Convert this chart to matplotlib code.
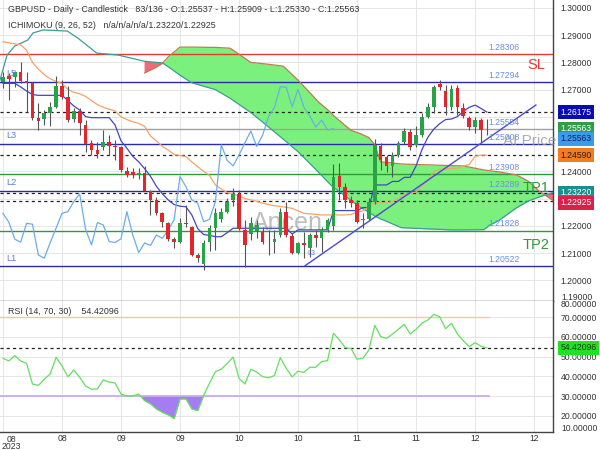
import matplotlib
matplotlib.use('Agg')
import matplotlib.pyplot as plt
import matplotlib.transforms as mtrans
import numpy as np

plt.rcParams['font.family'] = ['Liberation Sans', 'DejaVu Sans']

# ---------------- data ----------------
opens = [1.2729, 1.2750, 1.2745, 1.2763, 1.2733, 1.2723, 1.2595, 1.2593, 1.2613, 1.2637,
         1.2713, 1.2672, 1.2591, 1.2623, 1.2570, 1.2503, 1.2478, 1.2491, 1.2509, 1.2494,
         1.2491, 1.2401, 1.2396, 1.2387, 1.2393, 1.2326, 1.2295, 1.2246, 1.2212, 1.2151,
         1.2140, 1.2209, 1.2195, 1.2093, 1.2060, 1.2142, 1.2191, 1.2224, 1.2252, 1.2295,
         1.2317, 1.2185, 1.2170, 1.2182, 1.2179, 1.2142, 1.2140, 1.2166, 1.2250, 1.2163,
         1.2102, 1.2138, 1.2120, 1.2166, 1.2154, 1.2185, 1.2200, 1.2383, 1.2344, 1.2295,
         1.2283, 1.2220, 1.2224, 1.2289, 1.2493, 1.2452, 1.2420, 1.2460, 1.2509, 1.2546,
         1.2497, 1.2533, 1.2601, 1.2635, 1.2721, 1.2696, 1.2635, 1.2705, 1.2631, 1.2595,
         1.2562, 1.2588, 1.25537]
highs = [1.2766, 1.2760, 1.2768, 1.2802, 1.2763, 1.2727, 1.2652, 1.2625, 1.2656, 1.2750,
         1.2735, 1.2714, 1.2631, 1.2631, 1.2588, 1.2515, 1.2509, 1.2552, 1.2533, 1.2515,
         1.2493, 1.2417, 1.2411, 1.2411, 1.2420, 1.2332, 1.2307, 1.2252, 1.2215, 1.2160,
         1.2228, 1.2277, 1.2200, 1.2099, 1.2148, 1.2203, 1.2264, 1.2264, 1.2301, 1.2338,
         1.2332, 1.2222, 1.2234, 1.2222, 1.2197, 1.2185, 1.2185, 1.2264, 1.2289, 1.2173,
         1.2142, 1.2179, 1.2173, 1.2185, 1.2197, 1.2228, 1.2427, 1.2429, 1.2356, 1.2310,
         1.2295, 1.2246, 1.2301, 1.2517, 1.2503, 1.2460, 1.2470, 1.2510, 1.2558, 1.2554,
         1.2566, 1.2613, 1.2650, 1.2717, 1.2735, 1.2717, 1.2717, 1.2717, 1.2650, 1.2603,
         1.2601, 1.2595, 1.25909]
lows = [1.2705, 1.2662, 1.2711, 1.2723, 1.2619, 1.2588, 1.2552, 1.2570, 1.2566, 1.2631,
        1.2664, 1.2582, 1.2582, 1.2533, 1.2472, 1.2460, 1.2448, 1.2478, 1.2460, 1.2442,
        1.2399, 1.2378, 1.2374, 1.2371, 1.2326, 1.2240, 1.2240, 1.2197, 1.2146, 1.2118,
        1.2136, 1.2197, 1.2089, 1.2069, 1.2038, 1.2109, 1.2112, 1.2215, 1.2246, 1.2271,
        1.2185, 1.2050, 1.2148, 1.2154, 1.2134, 1.2093, 1.2099, 1.2160, 1.2158, 1.2095,
        1.2095, 1.2081, 1.2085, 1.2124, 1.2105, 1.2179, 1.2185, 1.2295, 1.2264, 1.2270,
        1.2209, 1.2191, 1.2222, 1.2280, 1.2405, 1.2399, 1.2380, 1.2452, 1.2500, 1.2478,
        1.2490, 1.2525, 1.2595, 1.2613, 1.2698, 1.2607, 1.2625, 1.2607, 1.2595, 1.2552,
        1.2540, 1.2509, 1.25330]
closes = [1.2747, 1.2738, 1.2763, 1.2733, 1.2723, 1.2595, 1.2585, 1.2615, 1.2637, 1.2713,
          1.2672, 1.2588, 1.2623, 1.2576, 1.2500, 1.2478, 1.2464, 1.2509, 1.2494, 1.2491,
          1.2405, 1.2387, 1.2387, 1.2393, 1.2329, 1.2295, 1.2246, 1.2213, 1.2151, 1.2140,
          1.2209, 1.2206, 1.2093, 1.2081, 1.2138, 1.2191, 1.2246, 1.2252, 1.2289, 1.2317,
          1.2187, 1.2130, 1.2212, 1.2203, 1.2142, 1.2139, 1.2152, 1.2252, 1.2166, 1.2102,
          1.2137, 1.2128, 1.2166, 1.2154, 1.2185, 1.2222, 1.2381, 1.2344, 1.2295, 1.2283,
          1.2215, 1.2224, 1.2289, 1.2497, 1.2440, 1.2420, 1.2460, 1.2505, 1.2548, 1.2491,
          1.2533, 1.2601, 1.2635, 1.2711, 1.2708, 1.2637, 1.2701, 1.2635, 1.2603, 1.2562,
          1.2588, 1.2552, 1.25563]

tenkan = [1.2723, 1.2723, 1.2723, 1.2710, 1.2695, 1.2682, 1.2679, 1.2679, 1.2679, 1.2679,
          1.2679, 1.2660, 1.2640, 1.2625, 1.2601, 1.2597, 1.2597, 1.2597, 1.2597, 1.2570,
          1.2512, 1.2485, 1.2455, 1.2435, 1.2410, 1.2382, 1.2345, 1.2318, 1.2295, 1.2278,
          1.2272, 1.2270, 1.2240, 1.2190, 1.2168, 1.2165, 1.2160, 1.2160, 1.2175, 1.2191,
          1.2191, 1.2191, 1.2191, 1.2191, 1.2191, 1.2191, 1.2191, 1.2191, 1.2191, 1.2170,
          1.2185, 1.2185, 1.2185, 1.2185, 1.2185, 1.2185, 1.2256, 1.2256, 1.2256, 1.2256,
          1.2256, 1.2267, 1.2267, 1.2350, 1.2350, 1.2350, 1.2363, 1.2363, 1.2378, 1.2378,
          1.2420, 1.2480, 1.2525, 1.2555, 1.2575, 1.2590, 1.2592, 1.2601, 1.2620, 1.2635,
          1.2643, 1.2631, 1.26175]
kijun = [1.2876, 1.2872, 1.2868, 1.2864, 1.2845, 1.2800, 1.2775, 1.2755, 1.2740, 1.2730,
         1.2723, 1.2701, 1.2690, 1.2685, 1.2675, 1.2660, 1.2645, 1.2635, 1.2628, 1.2622,
         1.2600, 1.2590, 1.2582, 1.2576, 1.2565, 1.2530, 1.2512, 1.2492, 1.2478, 1.2462,
         1.2458, 1.2454, 1.2435, 1.2417, 1.2400, 1.2385, 1.2350, 1.2335, 1.2322, 1.2317,
         1.2310, 1.2300, 1.2295, 1.2290, 1.2283, 1.2278, 1.2274, 1.2271, 1.2268, 1.2264,
         1.2255, 1.2246, 1.2244, 1.2242, 1.2240, 1.2240, 1.2240, 1.2240, 1.2240, 1.2242,
         1.2250, 1.2255, 1.2270, 1.2284, 1.2284, 1.2284, 1.2290, 1.2299, 1.2315, 1.2320,
         1.2324, 1.2347, 1.2366, 1.2399, 1.2408, 1.2410, 1.2410, 1.2412, 1.2420, 1.2425,
         1.2455, 1.2460, 1.2459]
chikou_shift = 26

# Senkou span A before span B starts (bar position, price)
span_a_pre_x = [-0.5, 0.7, 2.0, 4.2, 5.1, 6.8, 10.9, 12.7, 14.8, 15.9, 19.5, 24.0]
span_a_pre = [1.2735, 1.2827, 1.2860, 1.2882, 1.2908, 1.2919, 1.2915, 1.2889, 1.2853, 1.2834,
              1.2827, 1.2804]
# Both spans (bar position, price)
span_x = [24, 26, 27, 28, 30, 32, 36, 38.5, 42, 45, 47.5, 50, 53.5, 55.5, 56, 59, 60.5, 62,
          63, 64, 64.5, 67.5, 76, 78, 81.5, 82.5, 84, 87, 89, 91, 92, 93.2]
span_a = [1.2804, 1.2800, 1.2798, 1.2784, 1.2753, 1.2725, 1.2700, 1.2668, 1.2616, 1.2563,
          1.2518, 1.2472, 1.2396, 1.2351, 1.2342, 1.2293, 1.2269, 1.2250, 1.2236, 1.2225,
          1.2221, 1.2193, 1.2185, 1.2185, 1.2186, 1.2203, 1.2219, 1.2266, 1.2291, 1.2307,
          1.2314, 1.2322]
span_b = [1.2761, 1.2782, 1.2796, 1.2820, 1.2856, 1.2856, 1.2855, 1.2852, 1.2800, 1.2793,
          1.2786, 1.2735, 1.2654, 1.2617, 1.2605, 1.2550, 1.2539, 1.2524, 1.2498, 1.2434,
          1.2434, 1.2427, 1.2421, 1.2420, 1.2405, 1.2402, 1.2398, 1.2387, 1.2364, 1.2325,
          1.2311, 1.22925]

rsi = [49.2, 47.8, 50.5, 47.8, 46.6, 36.1, 35.4, 38.5, 41.2, 49.7,
       45.3, 39.8, 43.2, 39.5, 35.1, 33.4, 33.6, 38.2, 37.1, 36.6,
       31.0, 30.0, 30.0, 31.0, 27.6, 26.0, 23.4, 21.7, 20.4, 18.5,
       28.5, 28.5, 23.4, 22.6, 30.2, 36.5, 42.4, 43.6, 46.6, 49.8,
       39.0, 36.1, 43.6, 42.2, 39.8, 39.3, 40.4, 49.5, 44.1, 39.7,
       42.6, 42.0, 44.6, 44.6, 47.5, 48.0, 61.9, 58.5, 54.6, 54.1,
       48.7, 49.2, 53.4, 65.9, 60.2, 59.3, 61.5, 63.9, 66.4, 61.5,
       63.9, 67.0, 68.6, 71.5, 70.3, 64.2, 67.0, 61.5, 58.1, 55.1,
       57.1, 55.3, 54.42096]
rsi_last = 54.42096

# horizontal levels: (price, colour, label on right, left label)
levels = [(1.28306, '#e53935', '1.28306', None),
          (1.27294, '#2b2bb0', '1.27294', 'L5'),
          (1.25554, '#a0a0a0', '1.25554', None),
          (1.25008, '#2b2bb0', '1.25008', 'L3'),
          (1.23908, '#2e9a3a', '1.23908', None),
          (1.23289, '#2b2bb0', '1.23289', 'L2'),
          (1.21828, '#2e9a3a', '1.21828', None),
          (1.20522, '#2b2bb0', '1.20522', 'L1')]
dashed_levels = [1.26175, 1.24590, 1.23220, 1.22925]
targets = [('SL', 1.27900, '#e53935'), ('TP1', 1.23370, '#2e9a3a'), ('TP2', 1.21300, '#2e9a3a')]
trend_x = [51.2, 90.3]
trend_y = [1.20537, 1.26434]

# right-edge value boxes: (text, y position, face colour, text colour)
price_boxes = [('1.26175', 1.26175, '#0b0bb5', 'white'),
               ('1.25563', 1.25563, '#2f9d4c', 'white'),
               ('1.25563', 1.25190, '#3b9be8', '#10205a'),
               ('1.24590', 1.24590, '#f27c1f', '#2a1a00'),
               ('1.23220', 1.23220, '#17908f', 'white'),
               ('1.22925', 1.22850, '#d9204a', 'white')]

price_ticks = [1.20, 1.21, 1.22, 1.23, 1.24, 1.25, 1.26, 1.27, 1.28, 1.29, 1.30]
hidden_ticks = [1.23, 1.25, 1.26]
rsi_ticks = [20, 30, 40, 50, 60, 70]
xtick_pos = [10, 20, 30, 40, 50, 60, 70, 80, 90]
xtick_lab = ['08', '09', '09', '10', '10', '11', '11', '12', '12']

header1 = 'GBPUSD - Daily - Candlestick   83/136 - O:1.25537 - H:1.25909 - L:1.25330 - C:1.25563'
header2 = 'ICHIMOKU (9, 26, 52)   n/a/n/a/n/a/1.23220/1.22925'
rsi_header = 'RSI (14, 70, 30)    54.42096'

# ---------------- drawing ----------------
FS = 6.2
W, H = 600, 450
fig = plt.figure(figsize=(6, 4.5), dpi=100)
fig.patch.set_facecolor('white')
ax = fig.add_axes([0, 1 - 301 / H, 553 / W, 301 / H])
axr = fig.add_axes([0, 1 - 432 / H, 553 / W, 131 / H], sharex=ax)

opens = np.array(opens); highs = np.array(highs); lows = np.array(lows); closes = np.array(closes)
bars = np.arange(len(closes))
XMIN, XMAX = -0.5, 93.2
ax.set_xlim(XMIN, XMAX)
ax.set_ylim(1.1924, 1.3029)
axr.set_ylim(11.7, 78.3)

grid_c = '#e6e6e6'
for a in (ax, axr):
    a.set_facecolor('white')
    for s in ('left', 'top'):
        a.spines[s].set_visible(False)
    a.spines['right'].set_color('#444444')
    a.spines['bottom'].set_color('#444444')
    a.spines['right'].set_linewidth(1.0)
    a.spines['bottom'].set_linewidth(1.0)
    a.yaxis.tick_right()
    a.tick_params(axis='both', length=0, labelsize=FS, colors='#333333', pad=5.5)
    for xp in [0] + xtick_pos:
        a.axvline(xp, color=grid_c, lw=0.7, zorder=0)

# main y ticks
ax.set_yticks(price_ticks)
ax.set_yticklabels(['' if any(abs(t - h) < 1e-9 for h in hidden_ticks) else f'{t:.5f}'
                    for t in price_ticks])
for t in price_ticks:
    ax.axhline(t, color=grid_c, lw=0.7, zorder=0)
ax.text(1.0145, 1.1937, '1.19000', transform=mtrans.blended_transform_factory(ax.transAxes, ax.transData),
        fontsize=FS, color='#333333', va='center', ha='left', clip_on=False)
ax.tick_params(axis='x', labelbottom=False)

# cloud
sx = np.array(span_x); sa = np.array(span_a); sb = np.array(span_b)
ax.fill_between(sx, sa, sb, where=sb >= sa, interpolate=True, color='#7cf07c', lw=0, zorder=1)
ax.fill_between(sx, sa, sb, where=sa > sb, interpolate=True, color='#f06a78', lw=0, zorder=1)
ax.plot(np.r_[span_a_pre_x, sx[1:]], np.r_[span_a_pre, sa[1:]], color='#3a9e9a', lw=0.9, zorder=3)
ax.plot(sx, sb, color='#bf7a50', lw=0.9, zorder=3)

# horizontal levels
for p, c, lab, llab in levels:
    ax.axhline(p, color=c, lw=1.0, zorder=2)
    ax.annotate(lab, xy=(84.9, p), xytext=(0, 1.5), textcoords='offset points',
                ha='center', va='bottom', fontsize=FS, color='#6b8ee6', zorder=6)
    if llab:
        ax.annotate(llab, xy=(0.5, p), xytext=(0, 2.5), textcoords='offset points',
                    ha='left', va='bottom', fontsize=FS + 0.4, color='#5b7fe0', zorder=6)
for p in dashed_levels:
    ax.axhline(p, color='#222222', lw=0.9, ls=(0, (2.5, 2.5)), zorder=2)
for lab, p, c in targets:
    ax.text(90.3, p, lab, color=c, fontsize=10.5, ha='center', va='center', zorder=6)

# watermarks
ax.text(84.8, 1.2512, 'AI Price', color='#9a9a9a', fontsize=11, ha='left', va='center', zorder=3, alpha=0.8)
ax.text(42.2, 1.2212, 'Ancen', color='#8a8a8a', fontsize=18, ha='left', va='center', zorder=3, alpha=0.55)
ax.text(51.6, 1.2098, 'L3', color='#5b7fe0', fontsize=5, ha='left', va='center', zorder=6)

# ichimoku lines
ax.plot(bars, tenkan, color='#4545c4', lw=0.9, zorder=3)
ax.plot(bars, kijun, color='#f5a36a', lw=0.9, zorder=3)
ax.plot(bars[:-chikou_shift], closes[chikou_shift:], color='#6aaee8', lw=0.9, zorder=3)

# trend line
ax.plot(trend_x, trend_y, color='#4a4ad4', lw=1.0, zorder=3)

# candles
up = closes >= opens
cols = np.where(up, '#27a446', '#e3262c')
ax.vlines(bars, lows, highs, color='#555555', lw=0.8, zorder=4)
ax.bar(bars, np.maximum(np.abs(closes - opens), 0.00018), bottom=np.minimum(opens, closes),
       width=0.62, color=cols, lw=0, zorder=5)

# header
ax.text(8 / 553, 1 - 10 / 301, header1, transform=ax.transAxes, fontsize=6.4, color='#333333',
        va='center', ha='left', zorder=7)
ax.text(8 / 553, 1 - 25 / 301, header2, transform=ax.transAxes, fontsize=6.4, color='#333333',
        va='center', ha='left', zorder=7)

# price boxes
bt = mtrans.blended_transform_factory(ax.transAxes, ax.transData)
for txt, y, fc, tc in price_boxes:
    ax.text(1.0135, y, txt, transform=bt, fontsize=FS, color=tc, va='center', ha='left',
            bbox=dict(boxstyle='square,pad=0.28', fc=fc, ec='none'), zorder=8, clip_on=False)

# RSI panel
axr.set_yticks(rsi_ticks)
axr.set_yticklabels([f'{t:.5f}' for t in rsi_ticks])
for t in rsi_ticks:
    axr.axhline(t, color=grid_c, lw=0.7, zorder=0)
rt = mtrans.blended_transform_factory(axr.transAxes, axr.transData)
axr.text(1.0145, 76.6, '80.00000', transform=rt, fontsize=FS, color='#333333', va='center', ha='left')
axr.text(1.0145, 13.6, '10.00000', transform=rt, fontsize=FS, color='#333333', va='center', ha='left')
rsi_a = np.array(rsi)
axr.fill_between(bars, rsi_a, 30, where=rsi_a < 30, interpolate=True, color='#a57cf2', lw=0, zorder=2)
axr.plot([XMIN, 82.3], [70, 70], color='#f5cc86', lw=1.0, zorder=2)
axr.plot([XMIN, 82.3], [30, 30], color='#c6a6f2', lw=1.2, zorder=2)
axr.axhline(rsi_last, color='#222222', lw=0.9, ls=(0, (2.5, 2.5)), zorder=3)
axr.plot(bars, rsi_a, color='#62e05e', lw=0.9, zorder=4)
axr.text(8 / 553, 1 - 10 / 131, rsi_header, transform=axr.transAxes, fontsize=6.4, color='#333333',
         va='center', ha='left', zorder=7)
axr.text(1.0135, rsi_last, f'{rsi_last:.5f}', transform=rt, fontsize=FS, color='#1a3a1a', va='center',
         ha='left', bbox=dict(boxstyle='square,pad=0.28', fc='#22e022', ec='none'), zorder=8, clip_on=False)

# x ticks
axr.set_xticks(xtick_pos)
axr.set_xticklabels(xtick_lab)
axr.tick_params(axis='x', pad=1.5)
axr.text(1.4, -0.02, '08\n2023', transform=mtrans.blended_transform_factory(axr.transData, axr.transAxes),
         fontsize=FS, color='#333333', ha='center', va='top', linespacing=0.8)
axr.set_xlim(XMIN, XMAX)

fig.savefig('out.png', dpi=100, facecolor='white')
